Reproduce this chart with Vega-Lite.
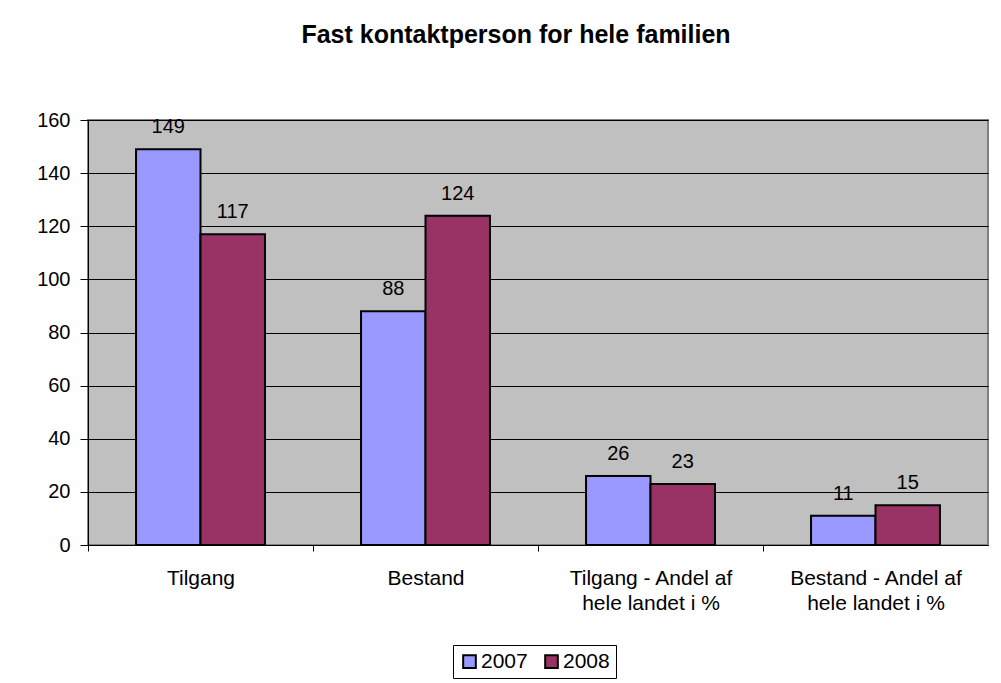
{
  "$schema": "https://vega.github.io/schema/vega-lite/v6.json",
  "autosize": "none",
  "width": 900,
  "height": 425,
  "padding": {"left": 88, "top": 120, "right": 13, "bottom": 138},
  "background": "white",
  "config": {
    "font": "Liberation Sans",
    "view": {"fill": "#C0C0C0", "stroke": "#808080", "strokeWidth": 2}
  },
  "title": {
    "text": "Fast kontaktperson for hele familien",
    "font": "Liberation Sans",
    "fontSize": 25,
    "fontWeight": "bold",
    "color": "black",
    "anchor": "middle",
    "dx": -22,
    "baseline": "alphabetic",
    "offset": 42
  },
  "data": {
    "values": [
      {"kategori": "Tilgang", "aar": "2007", "antal": 149},
      {"kategori": "Tilgang", "aar": "2008", "antal": 117},
      {"kategori": "Bestand", "aar": "2007", "antal": 88},
      {"kategori": "Bestand", "aar": "2008", "antal": 124},
      {"kategori": "Tilgang - Andel af hele landet i %", "aar": "2007", "antal": 26},
      {"kategori": "Tilgang - Andel af hele landet i %", "aar": "2008", "antal": 23},
      {"kategori": "Bestand - Andel af hele landet i %", "aar": "2007", "antal": 11},
      {"kategori": "Bestand - Andel af hele landet i %", "aar": "2008", "antal": 15}
    ]
  },
  "encoding": {
    "x": {
      "field": "kategori",
      "type": "nominal",
      "sort": null,
      "scale": {"paddingInner": 0.427, "paddingOuter": 0.2135},
      "axis": {
        "title": null,
        "labelAngle": 0,
        "labelFont": "Liberation Sans",
        "labelFontSize": 21,
        "labelColor": "black",
        "labelPadding": 16,
        "labelLineHeight": 25,
        "labelBaseline": "top",
        "tickOffset": -112.5,
        "labelOffset": 112.5,
        "tickSize": 6,
        "tickColor": "black",
        "domainColor": "black",
        "domainWidth": 1,
        "grid": false,
        "labelExpr": "datum.value == 'Tilgang - Andel af hele landet i %' ? ['Tilgang - Andel af', 'hele landet i %'] : datum.value == 'Bestand - Andel af hele landet i %' ? ['Bestand - Andel af', 'hele landet i %'] : datum.value"
      }
    },
    "xOffset": {"field": "aar", "type": "nominal"},
    "y": {
      "field": "antal",
      "type": "quantitative",
      "scale": {"domain": [0, 160], "nice": false},
      "axis": {
        "title": null,
        "values": [0, 20, 40, 60, 80, 100, 120, 140, 160],
        "labelFont": "Liberation Sans",
        "labelFontSize": 20,
        "labelColor": "black",
        "labelPadding": 10,
        "tickSize": 8,
        "tickColor": "black",
        "domainColor": "black",
        "gridColor": "black",
        "gridWidth": 1,
        "gridOpacity": 1
      }
    }
  },
  "layer": [
    {
      "mark": {"type": "bar", "stroke": "black", "strokeWidth": 2},
      "encoding": {
        "color": {
          "field": "aar",
          "type": "nominal",
          "scale": {"domain": ["2007", "2008"], "range": ["#9999FF", "#993366"]},
          "legend": {
            "title": null,
            "orient": "none",
            "legendX": 365,
            "legendY": 525,
            "direction": "horizontal",
            "symbolType": "square",
            "symbolSize": 160,
            "symbolStrokeColor": "black",
            "symbolStrokeWidth": 2,
            "symbolOpacity": 1,
            "labelFont": "Liberation Sans",
            "labelFontSize": 21,
            "labelColor": "black",
            "labelOffset": 1,
            "columnPadding": 13,
            "strokeColor": "black",
            "fillColor": "white",
            "padding": 6
          }
        }
      }
    },
    {
      "mark": {"type": "text", "font": "Liberation Sans", "fontSize": 20, "color": "black", "baseline": "alphabetic", "dy": -16},
      "encoding": {
        "text": {"field": "antal", "type": "quantitative"}
      }
    }
  ]
}
